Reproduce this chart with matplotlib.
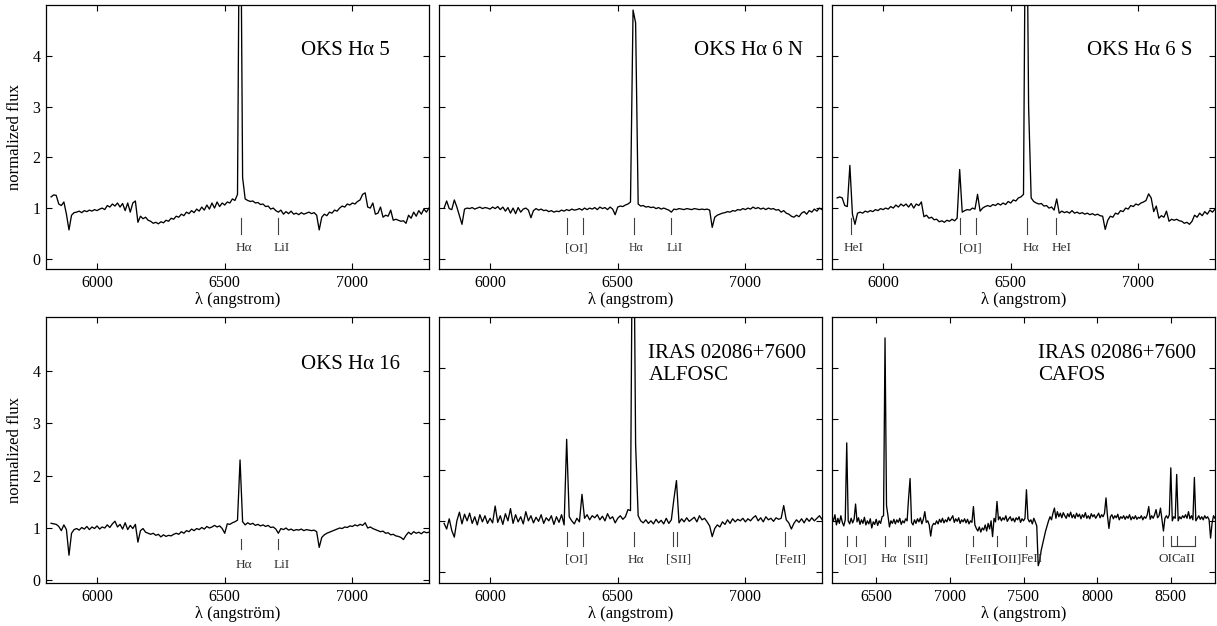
import numpy as np
import matplotlib.pyplot as plt

plt.rcParams['font.family'] = ['Liberation Serif', 'DejaVu Serif']

# ─────────────────────────────────────
# DATA  (normalized flux, 10 A sampling)
# ─────────────────────────────────────
WAVE_OPT = np.arange(5820, 7301, 10)   # panels 1-5
WAVE_RED = np.arange(6200, 8801, 10)   # CAFOS panel

FLUX_HA5 = [
    1.22, 1.26, 1.25, 1.08, 1.05, 1.12, 0.88, 0.57, 0.86, 0.91,   # 5820
    0.92, 0.94, 0.91, 0.95, 0.93, 0.96, 0.94, 0.97, 0.95, 0.98,   # 5920
    1.00, 0.97, 1.05, 1.02, 1.08, 1.04, 1.10, 1.02, 1.09, 0.95,   # 6020
    1.10, 0.92, 1.10, 1.14, 0.72, 0.84, 0.79, 0.82, 0.76, 0.74,   # 6120
    0.70, 0.72, 0.69, 0.73, 0.71, 0.76, 0.74, 0.80, 0.78, 0.84,   # 6220
    0.82, 0.88, 0.85, 0.92, 0.89, 0.95, 0.91, 0.98, 0.94, 1.02,   # 6320
    0.96, 1.06, 0.98, 1.10, 1.00, 1.12, 1.03, 1.10, 1.06, 1.12,   # 6420
    1.10, 1.18, 1.15, 1.27, 9.00, 1.60, 1.18, 1.15, 1.13, 1.14,   # 6520
    1.10, 1.11, 1.07, 1.08, 1.03, 1.04, 0.98, 1.00, 0.95, 0.92,   # 6620
    0.96, 0.88, 0.93, 0.89, 0.94, 0.88, 0.90, 0.87, 0.91, 0.88,   # 6720
    0.90, 0.92, 0.89, 0.91, 0.86, 0.57, 0.82, 0.88, 0.85, 0.92,   # 6820
    0.90, 0.96, 0.94, 1.00, 1.04, 1.02, 1.08, 1.06, 1.10, 1.08,   # 6920
    1.13, 1.16, 1.27, 1.30, 1.02, 1.00, 1.10, 0.88, 0.90, 1.02,   # 7020
    0.82, 0.86, 0.84, 0.96, 0.76, 0.78, 0.76, 0.74, 0.75, 0.70,   # 7120
    0.86, 0.80, 0.92, 0.84, 0.95, 0.88, 0.98, 0.92, 1.00,         # 7220
]

FLUX_HA6N = [
    1.00, 1.14, 0.99, 0.97, 1.16, 1.02, 0.85, 0.68, 0.98, 1.00,
    0.99, 1.01, 0.98, 1.00, 1.02, 0.99, 1.01, 1.00, 0.98, 1.02,
    0.99, 1.03, 0.97, 1.02, 0.94, 1.01, 0.90, 1.00, 0.89, 1.01,
    0.92, 0.98, 1.00, 0.96, 0.81, 0.95, 0.99, 0.96, 0.98, 0.95,
    0.96, 0.93, 0.95, 0.92, 0.94, 0.93, 0.96, 0.94, 0.97, 0.95,
    0.98, 0.96, 0.97, 0.99, 0.96, 1.00, 0.97, 1.00, 0.98, 1.01,
    0.97, 1.02, 0.99, 1.01, 0.97, 1.02, 0.98, 0.87, 1.02, 1.04,
    1.03, 1.06, 1.08, 1.12, 4.90, 4.65, 1.08, 1.04, 1.05, 1.02,
    1.03, 1.01, 1.02, 0.99, 1.01, 0.98, 1.00, 0.98, 0.96, 0.92,
    0.98, 0.97, 0.99, 0.98, 0.97, 0.99, 0.98, 0.97, 0.99, 0.98,
    0.97, 0.98, 0.97, 0.98, 0.96, 0.62, 0.82, 0.86, 0.88, 0.90,
    0.91, 0.93, 0.92, 0.95, 0.94, 0.97, 0.96, 0.99, 0.97, 1.00,
    0.98, 1.02, 0.99, 1.01, 0.98, 1.00, 0.97, 1.00, 0.98, 0.99,
    0.96, 0.97, 0.92, 0.95, 0.90, 0.88, 0.84, 0.82, 0.86, 0.83,
    0.90, 0.93, 0.88, 0.95, 0.92, 0.98, 0.94, 1.00, 0.97,
]

FLUX_HA6S = [
    1.20, 1.22, 1.20, 1.05, 1.03, 1.84, 0.88, 0.68, 0.90, 0.92,
    0.90, 0.94, 0.92, 0.95, 0.93, 0.97, 0.95, 0.99, 0.97, 1.00,
    0.98, 1.03, 1.00, 1.06, 1.02, 1.08, 1.04, 1.08, 1.02, 1.09,
    1.00, 1.08, 1.05, 1.12, 0.83, 0.86, 0.80, 0.82, 0.77, 0.78,
    0.73, 0.75, 0.72, 0.76, 0.74, 0.78, 0.75, 0.80, 1.76, 0.92,
    0.95, 0.97, 0.96, 1.00, 0.98, 1.27, 0.94, 1.00, 1.03, 1.05,
    1.03, 1.07, 1.05, 1.09, 1.06, 1.10, 1.07, 1.13, 1.10, 1.16,
    1.14, 1.20, 1.22, 1.27, 9.00, 3.00, 1.20, 1.13, 1.10, 1.08,
    1.09, 1.04, 1.05, 1.00, 1.02, 0.96, 1.18, 0.90, 0.94, 0.91,
    0.93, 0.90, 0.95, 0.90, 0.92, 0.89, 0.91, 0.88, 0.90, 0.87,
    0.89, 0.86, 0.88, 0.85, 0.84, 0.58, 0.76, 0.84, 0.82, 0.90,
    0.88, 0.95, 0.93, 1.00, 0.98, 1.05, 1.03, 1.08, 1.06, 1.10,
    1.12, 1.15, 1.28, 1.20, 0.93, 1.04, 0.80, 0.85, 0.82, 0.94,
    0.74, 0.78, 0.76, 0.78, 0.75, 0.74, 0.70, 0.72, 0.68, 0.74,
    0.86, 0.82, 0.90, 0.85, 0.93, 0.88, 0.96, 0.92, 0.98,
]

FLUX_HA16 = [
    1.09, 1.08, 1.07, 1.03, 0.95, 1.06, 0.97, 0.48, 0.90, 0.97,
    0.99, 0.96, 1.01, 0.98, 1.03, 0.97, 1.02, 0.99, 1.04, 0.98,
    1.02, 1.00, 1.06, 1.01, 1.08, 1.13, 1.02, 1.07, 0.98, 1.10,
    0.97, 1.05, 0.99, 1.07, 0.73, 0.95, 0.99, 0.92, 0.90, 0.88,
    0.90, 0.86, 0.88, 0.83, 0.87, 0.84, 0.86, 0.85, 0.88, 0.90,
    0.88, 0.93, 0.90, 0.95, 0.93, 0.98, 0.95, 0.99, 0.97, 1.01,
    0.98, 1.03, 1.00, 1.02, 1.05, 1.02, 1.04, 0.99, 0.90, 1.08,
    1.07, 1.10, 1.12, 1.15, 2.30, 1.12, 1.06, 1.10, 1.07, 1.09,
    1.05, 1.07, 1.04, 1.06, 1.03, 1.05, 1.01, 1.02, 0.98, 0.90,
    0.99, 0.97, 1.00, 0.96, 0.98, 0.95, 0.97, 0.96, 0.98, 0.95,
    0.97, 0.96, 0.95, 0.96, 0.93, 0.63, 0.82, 0.87, 0.90, 0.92,
    0.94, 0.96, 0.98, 1.00, 0.99, 1.02, 1.01, 1.04, 1.03, 1.06,
    1.04, 1.07, 1.05, 1.10, 1.00, 1.02, 0.99, 0.97, 0.95, 0.93,
    0.94, 0.90, 0.91, 0.87, 0.88, 0.85, 0.84, 0.82, 0.78, 0.86,
    0.92, 0.88, 0.93, 0.90, 0.92, 0.89, 0.93, 0.91, 0.92,
]

FLUX_ALFOSC = [
    0.95, 0.84, 1.04, 0.81, 0.68, 1.00, 1.17, 0.94, 1.13, 1.00,
    1.15, 0.95, 1.08, 0.92, 1.12, 0.98, 1.10, 0.95, 1.05, 0.96,
    1.29, 0.97, 1.10, 0.93, 1.14, 1.00, 1.24, 0.95, 1.12, 0.98,
    1.08, 0.94, 1.18, 1.00, 1.10, 0.96, 1.07, 0.99, 1.12, 0.95,
    1.06, 1.00, 1.10, 0.93, 1.08, 0.97, 1.12, 0.92, 2.60, 1.08,
    1.00, 0.94, 1.05, 0.98, 1.52, 1.05, 1.12, 1.02, 1.10, 1.06,
    1.12, 1.02, 1.09, 1.00, 1.14, 1.04, 1.08, 0.96, 1.05, 1.10,
    1.03, 1.08, 1.22, 1.20, 9.00, 2.50, 1.10, 1.00, 0.96, 1.02,
    0.95, 1.00, 0.94, 1.03, 0.96, 1.01, 0.94, 1.05, 0.95, 1.02,
    1.43, 1.79, 0.96, 1.04, 0.98, 1.06, 0.99, 1.03, 1.07, 0.98,
    1.10, 1.02, 1.05, 0.98, 0.90, 0.69, 0.85, 0.92, 0.88, 0.98,
    0.93, 1.02, 0.95, 1.04, 0.98, 1.03, 1.00, 1.05, 0.98, 1.04,
    1.00, 1.06, 1.10, 1.00, 1.06, 0.98, 1.08, 1.02, 1.05, 0.99,
    1.06, 1.03, 1.05, 1.30, 1.02, 0.96, 0.84, 0.95, 1.02, 0.97,
    1.04, 0.96, 1.05, 0.99, 1.06, 1.00, 1.05, 1.10, 1.03,
]

FLUX_CAFOS = [
    1.08, 1.00, 1.12, 0.92, 1.05, 0.95, 1.10, 0.97, 0.90, 1.02,   # 6200
    2.53, 1.00, 0.94, 1.05, 0.96, 1.03, 1.33, 0.98, 1.06, 0.93,   # 6300
    1.02, 0.95, 1.07, 0.92, 1.00, 0.94, 1.04, 0.86, 0.98, 0.93,   # 6400
    1.03, 0.91, 1.00, 0.95, 1.08, 1.10, 4.59, 1.30, 1.10, 0.88,   # 6500
    1.00, 0.95, 1.03, 0.94, 1.02, 0.97, 1.05, 0.93, 1.00, 0.96,   # 6600
    1.04, 1.00, 1.45, 1.83, 0.97, 0.92, 1.02, 0.95, 1.04, 0.98,   # 6700
    1.06, 0.94, 1.03, 1.18, 0.97, 1.00, 0.92, 0.70, 0.90, 0.95,   # 6800
    0.93, 1.00, 0.94, 1.03, 0.97, 1.05, 0.96, 1.02, 0.98, 1.07,   # 6900
    1.00, 1.05, 1.10, 0.97, 1.04, 0.99, 1.06, 0.95, 1.02, 0.98,   # 7000
    1.04, 0.96, 1.03, 0.94, 1.00, 0.97, 1.28, 0.92, 0.85, 0.80,   # 7100
    0.88, 0.78, 0.86, 0.82, 0.92, 0.80, 0.95, 0.84, 1.00, 0.69,   # 7200
    1.05, 0.98, 1.38, 1.02, 1.08, 1.00, 1.06, 1.02, 1.10, 0.99,   # 7300
    1.04, 1.08, 1.00, 1.05, 0.98, 1.06, 1.02, 1.08, 0.97, 1.04,   # 7400
    1.00, 1.05, 1.61, 1.04, 0.98, 1.02, 0.94, 1.05, 0.98, 0.90,   # 7500
    0.12, 0.22, 0.42, 0.55, 0.69, 0.80, 0.90, 1.00, 1.08, 1.02,   # 7600
    1.15, 1.25, 1.05, 1.18, 1.08, 1.15, 1.06, 1.16, 1.10, 1.05,   # 7700
    1.14, 1.08, 1.17, 1.06, 1.12, 1.05, 1.15, 1.08, 1.13, 1.04,   # 7800
    1.12, 1.07, 1.16, 1.05, 1.10, 1.04, 1.14, 1.08, 1.12, 1.05,   # 7900
    1.10, 1.15, 1.06, 1.12, 1.08, 1.15, 1.45, 1.10, 0.85, 1.08,   # 8000
    1.12, 1.04, 1.10, 1.06, 1.13, 1.02, 1.08, 1.05, 1.10, 1.03,   # 8100
    1.09, 1.05, 1.12, 1.02, 1.08, 1.04, 1.10, 1.03, 1.07, 1.05,   # 8200
    1.10, 1.02, 1.08, 1.05, 1.12, 1.28, 1.03, 1.10, 1.05, 1.12,   # 8300
    1.22, 1.06, 1.10, 1.25, 1.02, 0.80, 1.05, 1.10, 1.05, 1.12,   # 8400
    2.04, 1.00, 1.08, 1.05, 1.91, 1.00, 1.08, 1.04, 1.10, 1.06,   # 8500
    1.12, 1.05, 1.18, 1.04, 1.10, 1.02, 1.85, 1.00, 1.05, 1.10,   # 8600
    1.03, 1.08, 1.02, 1.10, 1.05, 1.08, 1.02, 0.66, 0.95, 1.10,   # 8700
    1.05,                                                         # 8800
]

TITLES = ["OKS Hα 5", "OKS Hα 6 N", "OKS Hα 6 S", "OKS Hα 16",
          "IRAS 02086+7600\nALFOSC", "IRAS 02086+7600\nCAFOS"]

# line identifications: tick wavelengths and (label, label centre)
MARKS = [
    [6563, 6708],
    [6300, 6363, 6563, 6708],
    [5876, 6300, 6363, 6563, 6678],
    [6563, 6708],
    [6300, 6363, 6563, 6716, 6731, 7155],
    [6300, 6363, 6563, 6716, 6731, 7155, 7320, 7515, 8446, 8498, 8542, 8662],
]
LABELS = [
    [("Hα", 6574), ("LiI", 6723)],
    [("[OI]", 6338), ("Hα", 6572), ("LiI", 6723)],
    [("HeI", 5885), ("[OI]", 6341), ("Hα", 6578), ("HeI", 6698)],
    [("Hα", 6574), ("LiI", 6723)],
    [("[OI]", 6338), ("Hα", 6572), ("[SII]", 6740), ("[FeII]", 7178)],
    [("[OI]", 6361), ("Hα", 6586), ("[SII]", 6765), ("[FeII]", 7207),
     ("[OII]", 7390), ("FeII", 7558), ("OI", 8465), ("CaII", 8589)],
]
CAII_TRIPLET = [8498, 8662]

# ─────────────────────────────────────
# LAYOUT
# ─────────────────────────────────────
W, H = 1217, 626
COL_LEFT = [46, 439, 832]
AX_W = 383
ROW_TOP = [5, 317]
ROW_BOT = [269, 583]

panels = [
    # wave, flux, xlim, ylim, xticks, title xy, mark (top, bottom, label y), xlabel
    (WAVE_OPT, FLUX_HA5, (5800, 7300), (-0.2, 5.0), [6000, 6500, 7000],
     (6800, 4.11), (0.80, 0.49, 0.21), "λ (angstrom)"),
    (WAVE_OPT, FLUX_HA6N, (5800, 7300), (-0.2, 5.0), [6000, 6500, 7000],
     (6800, 4.11), (0.80, 0.49, 0.21), "λ (angstrom)"),
    (WAVE_OPT, FLUX_HA6S, (5800, 7300), (-0.2, 5.0), [6000, 6500, 7000],
     (6800, 4.11), (0.80, 0.49, 0.21), "λ (angstrom)"),
    (WAVE_OPT, FLUX_HA16, (5800, 7300), (-0.05, 5.03), [6000, 6500, 7000],
     (6800, 4.12), (0.79, 0.59, 0.30), "λ (angström)"),
    (WAVE_OPT, FLUX_ALFOSC, (5800, 7300), (-0.22, 5.0), [6000, 6500, 7000],
     (6620, 4.07), (0.79, 0.51, 0.24), "λ (angstrom)"),
    (WAVE_RED, FLUX_CAFOS, (6200, 8800), (-0.22, 5.0), [6500, 7000, 7500, 8000, 8500],
     (7600, 4.07), (0.71, 0.50, 0.25), "λ (angstrom)"),
]

fig = plt.figure(figsize=(W / 100, H / 100), dpi=100)

for i, (wave, flux, xlim, ylim, xticks, txy, mk, xlab) in enumerate(panels):
    row, col = divmod(i, 3)
    left = COL_LEFT[col] / W
    bottom = 1 - ROW_BOT[row] / H
    height = (ROW_BOT[row] - ROW_TOP[row]) / H
    ax = fig.add_axes([left, bottom, AX_W / W, height])

    ax.plot(wave, flux, color="black", lw=0.95)

    ax.set_xlim(*xlim)
    ax.set_ylim(*ylim)
    ax.set_xticks(xticks)
    ax.set_yticks([0, 1, 2, 3, 4])
    ax.tick_params(direction="in", top=True, right=True, length=4, width=0.8,
                   labelsize=11.5, pad=4)
    for s in ax.spines.values():
        s.set_linewidth(0.9)

    if col == 0:
        ax.set_ylabel("normalized flux", fontsize=12, labelpad=7)
    else:
        ax.tick_params(labelleft=False)
    ax.set_xlabel(xlab, fontsize=12, labelpad=1)

    ax.text(txy[0], txy[1], TITLES[i], fontsize=15, ha="left", va="center",
            linespacing=1.25)

    # line markers
    top, bot, ly = mk
    for w in MARKS[i]:
        ax.plot([w, w], [bot, top], color="0.25", lw=0.8)
    if i == 5:
        ax.plot(CAII_TRIPLET, [bot, bot], color="0.25", lw=0.8)
    for name, lx in LABELS[i]:
        fs = 8.5 if (i == 1 and name == "Hα") else 9.5
        ax.text(lx, ly, name, fontsize=fs, ha="center", va="center", color="0.2")

plt.savefig("out.png", dpi=100)
